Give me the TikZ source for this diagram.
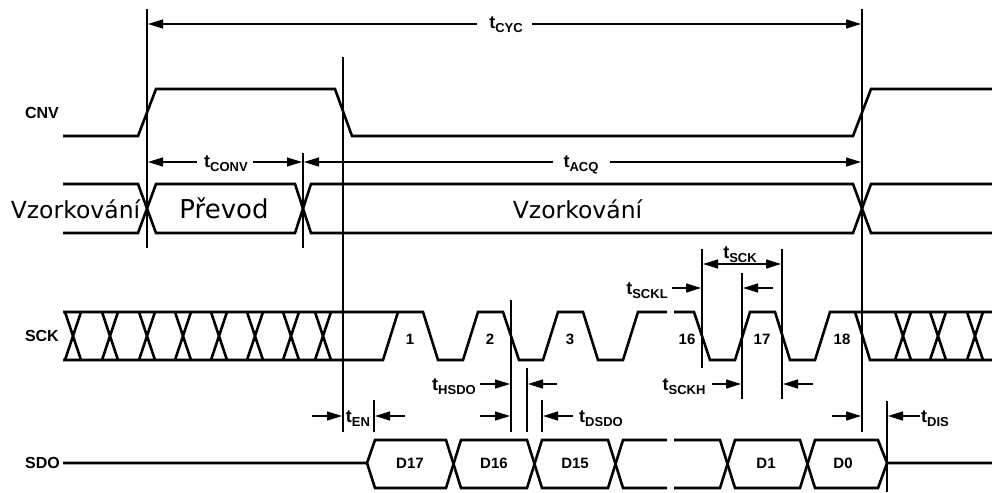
\documentclass[tikz,border=0pt]{standalone}
\usepackage{fontspec}
\setmainfont{Liberation Sans}
\newfontfamily\bigfont{DejaVu Sans}
\usetikzlibrary{arrows.meta}
\newcommand{\tlab}[1]{{\fontsize{18}{18}\selectfont t}\raisebox{-4pt}{\fontsize{13}{13}\selectfont #1}}
\begin{document}
\begin{tikzpicture}[x=1pt,y=-1pt,
  sig/.style={line width=2.6pt},
  thinline/.style={line width=1.1pt},
  dim/.style={line width=1.2pt,-{Triangle[length=15pt,width=9pt]}},
  dimboth/.style={line width=1.2pt,{Triangle[length=15pt,width=9pt]}-{Triangle[length=15pt,width=9pt]}},
  lab/.style={font=\bfseries\fontsize{15}{15}\selectfont,inner sep=0},
  side/.style={font=\bfseries\fontsize{16}{16}\selectfont,inner sep=0,anchor=east},
  tl/.style={font=\bfseries,inner sep=0,anchor=base},
  big/.style={font=\bigfont\fontsize{23.5}{24}\selectfont,inner sep=0,anchor=base}]
\useasboundingbox (0,0) rectangle (992,492);

% signal names
\node[side] (cnvl) at (59,113) {CNV};
\node[side] (sckl) at (59,336) {SCK};
\node[side] (sdol) at (60,463) {SDO};

% CNV
\draw[sig] (63,136) -- (138,136) -- (156,89) -- (335,89) -- (352,136) -- (853,136) -- (871,89) -- (992,89);

% state bus
\draw[sig] (63,184) -- (138,184) -- (156,233) -- (295,233) -- (311,184) -- (853,184) -- (871,233) -- (992,233);
\draw[sig] (63,233) -- (138,233) -- (156,184) -- (295,184) -- (311,233) -- (853,233) -- (871,184) -- (992,184);
\node[big] (vz1) at (75.5,218) {Vzorkování};
\node[big,font=\bigfont\fontsize{26}{26}\selectfont] (pr) at (224,218) {Převod};
\node[big] (vz2) at (577.5,218) {Vzorkování};

% SCK
\draw[sig] (63,312) -- (423,312) -- (438,360) -- (463,360) -- (478,312) -- (503,312) -- (519,360) -- (543,360) -- (558,312) -- (583,312) -- (598,360) -- (623,360) -- (638,312) -- (667,312);
\draw[sig] (63,360) -- (383,360) -- (398,312);
\foreach \c in {73,110,147,183,219,255,291,323,903,938,975}
  \draw[sig] (\c-8,312) -- (\c+8,360) (\c-8,360) -- (\c+8,312);
\draw[sig] (674,312) -- (694,312) -- (710,360) -- (735,360) -- (750,312) -- (775,312) -- (790,360) -- (815,360) -- (830,312) -- (992,312);
\draw[sig] (855,312) -- (870,360) -- (992,360);
\foreach \x/\t/\n in {410/1/c1,490/2/c2,570/3/c3,687/16/c16,762/17/c17,842/18/c18}
  \node[lab] (\n) at (\x,339) {\t};

% SDO
\draw[sig] (63,463) -- (367,463) -- (375,440) -- (446,440) -- (461,488) -- (527,488) -- (542,440) -- (608,440) -- (623,488) -- (667,488);
\draw[sig] (367,463) -- (375,488) -- (446,488) -- (461,440) -- (527,440) -- (542,488) -- (608,488) -- (623,440) -- (667,440);
\draw[sig] (674,440) -- (720,440) -- (735,488) -- (800,488) -- (815,440) -- (878,440) -- (887,463) -- (992,463);
\draw[sig] (674,488) -- (720,488) -- (735,440) -- (800,440) -- (815,488) -- (878,488) -- (887,463);
\foreach \x/\t/\n in {410/D17/d17,494/D16/d16,575/D15/d15,766/D1/d1,843/D0/d0}
  \node[lab] (\n) at (\x,463) {\t};

% reference lines
\draw[thinline] (147,9) -- (147,248);
\draw[thinline] (343,57) -- (343,432);
\draw[thinline] (303,153) -- (303,248);
\draw[thinline] (862,9) -- (862,432);
\draw[thinline] (374,400) -- (374,432);
\draw[thinline] (511,300) -- (511,432);
\draw[thinline] (527,368) -- (527,432);
\draw[thinline] (542,400) -- (542,432);
\draw[thinline] (702,249) -- (702,368);
\draw[thinline] (782,249) -- (782,399);
\draw[thinline] (742,273) -- (742,399);
\draw[thinline] (887,401) -- (887,492);

% timing labels
\node[tl] (tcyc) at (506,29) {\tlab{CYC}};
\node[tl] (tconv) at (226,167) {\tlab{CONV}};
\node[tl] (tacq) at (581,167) {\tlab{ACQ}};
\node[tl] (ten) at (358,422) {\tlab{EN}};
\node[tl] (thsdo) at (454,390) {\tlab{HSDO}};
\node[tl] (tdsdo) at (601,422) {\tlab{DSDO}};
\node[tl] (tsck) at (740,258) {\tlab{SCK}};
\node[tl] (tsckl) at (647,294) {\tlab{SCKL}};
\node[tl] (tsckh) at (684,390) {\tlab{SCKH}};
\node[tl] (tdis) at (935,422) {\tlab{DIS}};

% arrows
\draw[dim] (477,24) -- (148,24);
\draw[dim] (532,24) -- (861,24);
\draw[dim] (197,162) -- (148,162);
\draw[dim] (253,162) -- (302,162);
\draw[dim] (553,162) -- (304,162);
\draw[dim] (610,162) -- (861,162);
\draw[dim] (312,416) -- (342,416);
\draw[dim] (405,416) -- (375,416);
\draw[dim] (480,384) -- (510,384);
\draw[dim] (557,384) -- (528,384);
\draw[dim] (480,416) -- (510,416);
\draw[dim] (573,416) -- (543,416);
\draw[dimboth] (703,264) -- (781,264);
\draw[dim] (672,288) -- (701,288);
\draw[dim] (773,288) -- (743,288);
\draw[dim] (712,384) -- (741,384);
\draw[dim] (813,384) -- (783,384);
\draw[dim] (832,416) -- (861,416);
\draw[dim] (920,416) -- (888,416);
\end{tikzpicture}
\end{document}
